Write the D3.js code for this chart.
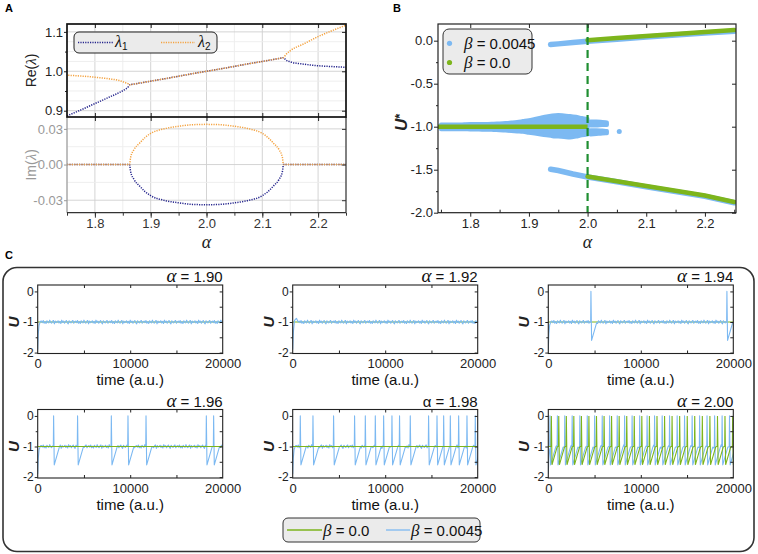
<!DOCTYPE html>
<html><head><meta charset="utf-8">
<script src="https://cdn.jsdelivr.net/npm/d3@7"></script>
<style>
body{margin:0;background:#fff}
svg{display:block;font-family:"Liberation Sans",Arial,sans-serif}
</style></head><body>
<svg id="chart" width="758" height="554"></svg>
<script>
// ================= DATA =================
// Panel A : eigenvalues vs alpha
const alphaTicksA = [1.8, 1.9, 2.0, 2.1, 2.2];
const reTicks = [0.9, 1.0, 1.1];
const imTicks = [-0.03, 0.0, 0.03];
const alphaA = [1.75,1.775,1.80,1.825,1.845,1.855,1.86,1.862,1.864,1.87,1.88,1.89,1.90,1.925,1.95,1.975,2.0,2.025,2.05,2.075,2.10,2.11,2.12,2.13,2.136,2.138,2.142,2.15,2.175,2.2,2.225,2.25];
const reLambda1 = [0.887,0.902,0.918,0.934,0.947,0.955,0.961,0.9655,0.966,0.9675,0.970,0.9725,0.975,0.981,0.9875,0.994,1.000,1.006,1.0125,1.019,1.025,1.0275,1.030,1.0325,1.034,1.0345,1.029,1.024,1.018,1.014,1.012,1.010];
const reLambda2 = [0.990,0.988,0.985,0.981,0.976,0.971,0.968,0.9655,0.966,0.9675,0.970,0.9725,0.975,0.981,0.9875,0.994,1.000,1.006,1.0125,1.019,1.025,1.0275,1.030,1.0325,1.034,1.0345,1.042,1.052,1.070,1.088,1.103,1.117];
const imLambda1 = [0,0,0,0,0,0,0,0,-0.006,-0.0125,-0.018,-0.0228,-0.0262,-0.0302,-0.0322,-0.0335,-0.0338,-0.0335,-0.0322,-0.0302,-0.0262,-0.0228,-0.018,-0.0125,-0.006,0,0,0,0,0,0,0];
const imLambda2 = [0,0,0,0,0,0,0,0,0.006,0.0125,0.018,0.0228,0.0262,0.0302,0.0322,0.0335,0.0338,0.0335,0.0322,0.0302,0.0262,0.0228,0.018,0.0125,0.006,0,0,0,0,0,0,0];

// Panel B : fixed points U* vs alpha
const alphaTicksB = [1.8, 1.9, 2.0, 2.1, 2.2];
const uTicksB = [0.0, -0.5, -1.0, -1.5, -2.0];
const cloudAlpha = [1.75,1.76,1.77,1.78,1.79,1.80,1.81,1.82,1.83,1.84,1.85,1.86,1.87,1.88,1.89,1.90,1.91,1.92,1.93,1.94,1.95,1.96,1.97,1.98,1.99,2.00];
const cloudLow  = [-1.03,-1.03,-1.03,-1.03,-1.03,-1.032,-1.032,-1.035,-1.035,-1.038,-1.04,-1.045,-1.05,-1.055,-1.06,-1.07,-1.08,-1.09,-1.10,-1.11,-1.115,-1.12,-1.125,-1.115,-1.10,-1.09];
const cloudHigh = [-0.975,-0.975,-0.975,-0.975,-0.972,-0.97,-0.97,-0.968,-0.968,-0.965,-0.962,-0.958,-0.952,-0.945,-0.935,-0.925,-0.91,-0.895,-0.88,-0.87,-0.865,-0.87,-0.875,-0.885,-0.90,-0.91];
const clusterAlpha = [2.005, 2.015, 2.025, 2.033];
const clusterUpLow = [-0.985, -0.985, -0.98, -0.98];
const clusterUpHigh = [-0.94, -0.94, -0.945, -0.95];
const clusterDnLow = [-1.09, -1.085, -1.08, -1.075];
const clusterDnHigh = [-1.04, -1.04, -1.045, -1.05];
const isolatedPoint = [2.054, -1.055];
const branchAlphaBlue = [1.937, 1.95, 1.975, 2.0, 2.05, 2.1, 2.15, 2.2, 2.25];
const upperBlue = [-0.045, -0.037, -0.022, -0.007, 0.018, 0.043, 0.067, 0.09, 0.11];
const lowerBlue = [-1.495, -1.51, -1.55, -1.585, -1.64, -1.70, -1.755, -1.81, -1.885];
const branchAlphaGreen = [2.0, 2.05, 2.1, 2.15, 2.2, 2.25];
const upperGreen = [0.005, 0.03, 0.054, 0.078, 0.10, 0.123];
const lowerGreen = [-1.58, -1.635, -1.69, -1.745, -1.80, -1.875];
const restAlphaGreen = [1.745, 2.0];
const restGreen = [-1.0, -1.0];

// Panel C : time series
const panelAlphas = ["1.90", "1.92", "1.94", "1.96", "1.98", "2.00"];
const timeTicks = [0, 10000, 20000];
const uTicksC = [0, -1, -2];
const spikeTemplate = [[0, -1.0], [30, 0.0], [100, -1.6], [650, -1.02]];
const transientBlue = [[0, -1.9], [60, -1.4], [150, -1.1], [300, -0.98]];
const transient192 = [[0, -1.9], [80, -1.3], [200, -0.95], [400, -0.88], [600, -1.0]];
const baselineNoise = [0.03,-0.02,0.05,-0.04,0.01,-0.05,0.04,0.0,-0.03,0.06,-0.01,-0.04,0.02,0.05,-0.06,0.03,-0.02,0.0,0.04,-0.03,0.02,-0.05,0.06,-0.01,0.03,-0.04,0.01,0.05,-0.02,-0.06,0.04,0.0,-0.03,0.02,0.05,-0.04,0.01];
const spikes190 = [];
const spikes192 = [];
const spikes194 = [4580, 19280];
const spikes196 = [1690, 4280, 7930, 9730, 11680, 18200, 18990];
const spikes198 = [790, 2160, 4390, 6660, 7820, 8900, 9800, 10700, 11520, 12680, 14660, 15570, 16290, 17010, 17910, 18810, 19710];
const spikes200 = [150, 950, 1750, 2550, 3380, 4180, 4980, 5800, 6600, 7420, 8220, 9030, 9850, 10650, 11460, 12280, 13080, 13900, 14700, 15520, 16330, 17130, 17950, 18760, 19560];
const greenSpikes200 = [300, 1100, 1920, 2730, 3550, 4360, 5180, 6000, 6810, 7630, 8450, 9260, 10080, 10900, 11720, 12540, 13350, 14170, 14990, 15800, 16620, 17440, 18260, 19070, 19900];

// ================= DRAWING =================
const SANS = '"Liberation Sans", Arial, sans-serif';
const SERIF = '"Liberation Serif", "Times New Roman", serif';
const NAVY = "#24248c", ORANGE = "#f4a23f";
const BLUE = "#7cb9f2", GREEN = "#7db51c", DGREEN = "#1f8e31";
const svg = d3.select("#chart");
svg.append("rect").attr("width", 758).attr("height", 554).attr("fill", "#fff");

function richText(parent, x, y, parts, attrs) {
  const t = parent.append("text").attr("x", x).attr("y", y).attr("font-family", SANS);
  Object.entries(attrs || {}).forEach(([k, v]) => t.attr(k, v));
  parts.forEach(p => {
    const s = t.append("tspan").text(p.t);
    if (p.serif) s.attr("font-family", SERIF);
    if (p.it) s.attr("font-style", "italic");
    if (p.size) s.attr("font-size", p.size);
    if (p.dy) s.attr("dy", p.dy);
    if (p.bold) s.attr("font-weight", "bold");
  });
  return t;
}
function styleAxis(g, color, fs) {
  g.select(".domain").remove();
  g.selectAll(".tick line").attr("stroke", color).attr("stroke-width", 1);
  g.selectAll(".tick text").attr("fill", color).attr("font-size", fs).attr("font-family", SANS);
  return g;
}
const defs = svg.append("defs");
function clip(id, x, y, w, h) {
  defs.append("clipPath").attr("id", id).append("rect").attr("x", x).attr("y", y).attr("width", w).attr("height", h);
  return "url(#" + id + ")";
}

// panel letters
[["A", 5, 12], ["B", 393, 12], ["C", 5, 259]].forEach(([l, x, y]) =>
  svg.append("text").attr("x", x).attr("y", y).text(l).attr("font-weight", "bold").attr("font-size", 11).attr("font-family", SANS));

// ---------- Panel A ----------
{
  const g = svg.append("g");
  const L = 67, R = 346, T = 24, M = 117, B = 212.7;
  const xA = d3.scaleLinear().domain([1.75, 2.25]).range([L, R]);
  const yRe = d3.scaleLinear().domain([0.884, 1.12]).range([M, T]);
  const yIm = d3.scaleLinear().domain([-0.0405, 0.040]).range([B, M]);
  const minorX = xA.ticks(10);
  const reGrid = d3.range(0.9, 1.11, 0.025);
  const imGrid = d3.range(-0.03, 0.031, 0.015);
  // grid
  const grid = g.append("g");
  minorX.forEach(v => {
    const major = alphaTicksA.some(a => Math.abs(a - v) < 1e-6);
    grid.append("line").attr("x1", xA(v)).attr("x2", xA(v)).attr("y1", T).attr("y2", B)
      .attr("stroke", major ? "#cfcfcf" : "#ececec").attr("stroke-width", 0.9);
  });
  reGrid.forEach(v => {
    const major = reTicks.some(a => Math.abs(a - v) < 1e-6);
    grid.append("line").attr("x1", L).attr("x2", R).attr("y1", yRe(v)).attr("y2", yRe(v))
      .attr("stroke", major ? "#cfcfcf" : "#ececec").attr("stroke-width", 0.9);
  });
  imGrid.forEach(v => {
    const major = imTicks.some(a => Math.abs(a - v) < 1e-6);
    grid.append("line").attr("x1", L).attr("x2", R).attr("y1", yIm(v)).attr("y2", yIm(v))
      .attr("stroke", major ? "#cfcfcf" : "#ececec").attr("stroke-width", 0.9);
  });
  // curves
  const cRe = clip("clipRe", L, T, R - L, M - T);
  const cIm = clip("clipIm", L, M, R - L, B - M);
  const lineRe = d3.line().x((d, i) => xA(alphaA[i])).y(d => yRe(d)).curve(d3.curveMonotoneX);
  const lineIm = d3.line().x((d, i) => xA(alphaA[i])).y(d => yIm(d)).curve(d3.curveMonotoneX);
  const cr = g.append("g").attr("clip-path", cRe);
  cr.append("path").attr("d", lineRe(reLambda1)).attr("fill", "none").attr("stroke", NAVY).attr("stroke-width", 1.5).attr("stroke-dasharray", "1.2,1.2");
  cr.append("path").attr("d", lineRe(reLambda2)).attr("fill", "none").attr("stroke", ORANGE).attr("stroke-width", 1.5).attr("stroke-dasharray", "1.2,1.2").attr("stroke-dashoffset", 1.2);
  const ci = g.append("g").attr("clip-path", cIm);
  ci.append("path").attr("d", lineIm(imLambda1)).attr("fill", "none").attr("stroke", NAVY).attr("stroke-width", 1.5).attr("stroke-dasharray", "1.2,1.2");
  ci.append("path").attr("d", lineIm(imLambda2)).attr("fill", "none").attr("stroke", ORANGE).attr("stroke-width", 1.5).attr("stroke-dasharray", "1.2,1.2");
  // axes Re
  styleAxis(g.append("g").attr("transform", `translate(${L},0)`).call(d3.axisLeft(yRe).tickValues(reTicks).tickSize(3).tickPadding(1).tickFormat(d => d.toFixed(1))), "#222", 13);
  styleAxis(g.append("g").attr("transform", `translate(${L},0)`).call(d3.axisLeft(yRe).tickValues([0.95, 1.05]).tickSize(2).tickFormat("")), "#222", 12);
  styleAxis(g.append("g").attr("transform", `translate(${R},0)`).call(d3.axisRight(yRe).tickValues(reTicks).tickSize(-4).tickFormat("")), "#222", 12);
  styleAxis(g.append("g").attr("transform", `translate(0,${T})`).call(d3.axisTop(xA).tickValues(alphaTicksA).tickSize(-4).tickFormat("")), "#222", 12);
  styleAxis(g.append("g").attr("transform", `translate(0,${M})`).call(d3.axisTop(xA).tickValues(alphaTicksA).tickSize(4).tickFormat("")), "#222", 12);
  styleAxis(g.append("g").attr("transform", `translate(0,${M})`).call(d3.axisBottom(xA).tickValues(alphaTicksA).tickSize(4).tickFormat("")), "#222", 12);
  // axes Im
  styleAxis(g.append("g").attr("transform", `translate(${L},0)`).call(d3.axisLeft(yIm).tickValues(imTicks).tickSize(3).tickPadding(1).tickFormat(d => d.toFixed(2))), "#999", 13);
  styleAxis(g.append("g").attr("transform", `translate(${R},0)`).call(d3.axisRight(yIm).tickValues(imTicks).tickSize(-4).tickFormat("")), "#333", 12);
  styleAxis(g.append("g").attr("transform", `translate(0,${B})`).call(d3.axisBottom(xA).tickValues(alphaTicksA).tickSize(5).tickPadding(1).tickFormat(d => d.toFixed(1))), "#333", 13);
  styleAxis(g.append("g").attr("transform", `translate(0,${B})`).call(d3.axisBottom(xA).tickValues(minorX).tickSize(3).tickFormat("")), "#333", 12);
  // frames
  g.append("line").attr("x1", L).attr("x2", L).attr("y1", M).attr("y2", B).attr("stroke", "#999").attr("stroke-width", 1.2);
  g.append("line").attr("x1", L).attr("x2", R).attr("y1", B).attr("y2", B).attr("stroke", "#333").attr("stroke-width", 1.2);
  g.append("line").attr("x1", R).attr("x2", R).attr("y1", M).attr("y2", B).attr("stroke", "#333").attr("stroke-width", 1.2);
  g.append("rect").attr("x", L).attr("y", T).attr("width", R - L).attr("height", M - T).attr("fill", "none").attr("stroke", "#111").attr("stroke-width", 1.7);
  // labels
  richText(g, 0, 0, [{ t: "Re(" }, { t: "λ", it: true, serif: true, size: 15 }, { t: ")" }], { "font-size": 14, "text-anchor": "middle", transform: `translate(36,${(T + M) / 2}) rotate(-90)`, fill: "#222" });
  richText(g, 0, 0, [{ t: "Im(" }, { t: "λ", it: true, serif: true, size: 15 }, { t: ")" }], { "font-size": 14, "text-anchor": "middle", transform: `translate(36,${(M + B) / 2}) rotate(-90)`, fill: "#999" });
  richText(g, xA(2.0), 248, [{ t: "α", it: true, serif: true }], { "font-size": 18, "text-anchor": "middle", fill: "#222" });
  // legend
  const lg = g.append("g");
  lg.append("rect").attr("x", 74).attr("y", 32).attr("width", 143).attr("height", 21).attr("rx", 5).attr("fill", "#ebebeb").attr("stroke", "#222").attr("stroke-width", 1);
  lg.append("line").attr("x1", 78).attr("x2", 113).attr("y1", 42.5).attr("y2", 42.5).attr("stroke", NAVY).attr("stroke-width", 1.5).attr("stroke-dasharray", "1.2,1.2");
  richText(lg, 115, 47, [{ t: "λ", it: true, serif: true, size: 16 }, { t: "1", size: 10, dy: 3 }], { fill: "#111" });
  lg.append("line").attr("x1", 161).attr("x2", 195).attr("y1", 42.5).attr("y2", 42.5).attr("stroke", ORANGE).attr("stroke-width", 1.5).attr("stroke-dasharray", "1.2,1.2");
  richText(lg, 198, 47, [{ t: "λ", it: true, serif: true, size: 16 }, { t: "2", size: 10, dy: 3 }], { fill: "#111" });
}

// ---------- Panel B ----------
{
  const g = svg.append("g");
  const L = 438, R = 736, T = 24, B = 212.7;
  const xB = d3.scaleLinear().domain([1.745, 2.253]).range([L, R]);
  const yB = d3.scaleLinear().domain([-2.0, 0.194]).range([B, T]);
  const cB = clip("clipB", L, T, R - L, B - T);
  const d = g.append("g").attr("clip-path", cB);
  const band = (al, lo, hi) => d3.area().x((v, i) => xB(al[i])).y0((v, i) => yB(lo[i])).y1((v, i) => yB(hi[i])).curve(d3.curveMonotoneX)(lo);
  d.append("path").attr("d", band(cloudAlpha, cloudLow, cloudHigh)).attr("fill", BLUE).attr("stroke", BLUE).attr("stroke-width", 4).attr("stroke-linejoin", "round");
  d.append("path").attr("d", band(clusterAlpha, clusterUpLow, clusterUpHigh)).attr("fill", BLUE).attr("stroke", BLUE).attr("stroke-width", 4).attr("stroke-linejoin", "round");
  d.append("path").attr("d", band(clusterAlpha, clusterDnLow, clusterDnHigh)).attr("fill", BLUE).attr("stroke", BLUE).attr("stroke-width", 4).attr("stroke-linejoin", "round");
  d.append("circle").attr("cx", xB(isolatedPoint[0])).attr("cy", yB(isolatedPoint[1])).attr("r", 2.5).attr("fill", BLUE);
  const ln = (al) => d3.line().x((v, i) => xB(al[i])).y(v => yB(v));
  d.append("path").attr("d", ln(branchAlphaBlue)(upperBlue)).attr("fill", "none").attr("stroke", BLUE).attr("stroke-width", 5.5).attr("stroke-linecap", "round");
  d.append("path").attr("d", ln(branchAlphaBlue)(lowerBlue)).attr("fill", "none").attr("stroke", BLUE).attr("stroke-width", 5.5).attr("stroke-linecap", "round");
  d.append("path").attr("d", ln(restAlphaGreen)(restGreen)).attr("fill", "none").attr("stroke", GREEN).attr("stroke-width", 4.5);
  d.append("path").attr("d", ln(branchAlphaGreen)(upperGreen)).attr("fill", "none").attr("stroke", GREEN).attr("stroke-width", 4.5).attr("stroke-linecap", "round");
  d.append("path").attr("d", ln(branchAlphaGreen)(lowerGreen)).attr("fill", "none").attr("stroke", GREEN).attr("stroke-width", 4.5).attr("stroke-linecap", "round");
  d.append("line").attr("x1", xB(2.0)).attr("x2", xB(2.0)).attr("y1", T).attr("y2", B).attr("stroke", DGREEN).attr("stroke-width", 2.2).attr("stroke-dasharray", "8,5");
  // axes
  styleAxis(g.append("g").attr("transform", `translate(${L},0)`).call(d3.axisLeft(yB).tickValues(uTicksB).tickSize(4).tickPadding(1).tickFormat(d => d.toFixed(1))), "#222", 13);
  styleAxis(g.append("g").attr("transform", `translate(${L},0)`).call(d3.axisLeft(yB).tickValues([-0.25, -0.75, -1.25, -1.75]).tickSize(2).tickFormat("")), "#222", 12);
  styleAxis(g.append("g").attr("transform", `translate(${R},0)`).call(d3.axisRight(yB).tickValues(uTicksB).tickSize(-4).tickFormat("")), "#222", 12);
  styleAxis(g.append("g").attr("transform", `translate(0,${T})`).call(d3.axisTop(xB).tickValues(alphaTicksB).tickSize(-4).tickFormat("")), "#222", 12);
  styleAxis(g.append("g").attr("transform", `translate(0,${B})`).call(d3.axisBottom(xB).tickValues(alphaTicksB).tickSize(4).tickPadding(2).tickFormat(d => d.toFixed(1))), "#222", 13);
  styleAxis(g.append("g").attr("transform", `translate(0,${B})`).call(d3.axisBottom(xB).tickValues([1.75, 1.85, 1.95, 2.05, 2.15, 2.25]).tickSize(-3).tickFormat("")), "#222", 12);
  g.append("rect").attr("x", L).attr("y", T).attr("width", R - L).attr("height", B - T).attr("fill", "none").attr("stroke", "#222").attr("stroke-width", 1.2);
  // labels
  richText(g, 0, 0, [{ t: "U", it: true, bold: true }, { t: "*", bold: true, dy: -3, size: 13 }], { "font-size": 17, "text-anchor": "middle", transform: `translate(407,${yB(-0.95)}) rotate(-90)`, fill: "#222" });
  richText(g, xB(2.0), 248, [{ t: "α", it: true, serif: true }], { "font-size": 18, "text-anchor": "middle", fill: "#222" });
  // legend
  const lg = g.append("g");
  lg.append("rect").attr("x", 443).attr("y", 29).attr("width", 89).attr("height", 45).attr("rx", 6).attr("fill", "#ebebeb").attr("stroke", "#333").attr("stroke-width", 1);
  lg.append("circle").attr("cx", 449.5).attr("cy", 43.3).attr("r", 2.6).attr("fill", BLUE);
  richText(lg, 464, 48.5, [{ t: "β", it: true, serif: true, size: 17 }, { t: " = 0.0045" }], { "font-size": 15, fill: "#111" });
  lg.append("circle").attr("cx", 449.5).attr("cy", 62.5).attr("r", 2.6).attr("fill", GREEN);
  richText(lg, 464, 68, [{ t: "β", it: true, serif: true, size: 17 }, { t: " = 0.0" }], { "font-size": 15, fill: "#111" });
}

// ---------- Panel C ----------
function buildSeries(transient, spikes, noise) {
  const pts = transient.map(p => [p[0], p[1]]);
  let t = pts[pts.length - 1][0];
  let ni = 0;
  const step = 100;
  spikes.forEach(s => {
    for (let tt = t + step; tt < s; tt += step) pts.push([tt, -1 + noise[(ni++) % noise.length]]);
    spikeTemplate.forEach(([dt, u]) => pts.push([s + dt, u]));
    t = s + spikeTemplate[spikeTemplate.length - 1][0];
  });
  for (let tt = t + step; tt <= 20000; tt += step) pts.push([tt, -1 + noise[(ni++) % noise.length]]);
  return pts;
}
{
  const g = svg.append("g");
  g.append("rect").attr("x", 3).attr("y", 267.5).attr("width", 751).attr("height", 284).attr("rx", 14)
    .attr("fill", "none").attr("stroke", "#333").attr("stroke-width", 1.6);
  const colL = [37.7, 292.7, 548.3], rowT = [285, 409.5], PW = 185, PH = 68.5;
  const blueSpikes = [spikes190, spikes192, spikes194, spikes196, spikes198, spikes200];
  panelAlphas.forEach((a, k) => {
    const L = colL[k % 3], T = rowT[Math.floor(k / 3)], R = L + PW, B = T + PH;
    const x = d3.scaleLinear().domain([0, 20000]).range([L, R]);
    const y = d3.scaleLinear().domain([-2.03, 0.21]).range([B, T]);
    const pg = g.append("g");
    const cp = clip("clipC" + k, L, T, PW, PH);
    const dg = pg.append("g").attr("clip-path", cp);
    const line = d3.line().x(p => x(p[0])).y(p => y(p[1]));
    const blue = buildSeries(k === 1 ? transient192 : transientBlue, blueSpikes[k], baselineNoise);
    const green = k === 5 ? buildSeries([[0, -1.0]], greenSpikes200, [0]) : [[0, -1.0], [20000, -1.0]];
    const greenOnTop = k >= 3;
    if (!greenOnTop) dg.append("path").attr("d", line(green)).attr("fill", "none").attr("stroke", GREEN).attr("stroke-width", 1.1);
    dg.append("path").attr("d", line(blue)).attr("fill", "none").attr("stroke", BLUE).attr("stroke-width", 1.1).attr("stroke-linejoin", "round");
    if (greenOnTop) dg.append("path").attr("d", line(green)).attr("fill", "none").attr("stroke", GREEN).attr("stroke-width", 1.1);
    // axes
    styleAxis(pg.append("g").attr("transform", `translate(${L},0)`).call(d3.axisLeft(y).tickValues(uTicksC).tickSize(3).tickPadding(1).tickFormat(d => String(d))), "#222", 12);
    styleAxis(pg.append("g").attr("transform", `translate(${L},0)`).call(d3.axisLeft(y).tickValues([-0.5, -1.5]).tickSize(2).tickFormat("")), "#222", 12);
    styleAxis(pg.append("g").attr("transform", `translate(${R},0)`).call(d3.axisRight(y).tickValues([0, -0.5, -1, -1.5, -2]).tickSize(-3).tickFormat("")), "#222", 12);
    styleAxis(pg.append("g").attr("transform", `translate(0,${T})`).call(d3.axisTop(x).tickValues([5000, 10000, 15000]).tickSize(-3).tickFormat("")), "#222", 12);
    styleAxis(pg.append("g").attr("transform", `translate(0,${B})`).call(d3.axisBottom(x).tickValues(timeTicks).tickSize(0).tickPadding(5.5).tickFormat(d => String(d))), "#222", 13);
    styleAxis(pg.append("g").attr("transform", `translate(0,${B})`).call(d3.axisBottom(x).tickValues([5000, 10000, 15000]).tickSize(-3).tickFormat("")), "#222", 12);
    pg.append("rect").attr("x", L).attr("y", T).attr("width", PW).attr("height", PH).attr("fill", "none").attr("stroke", "#222").attr("stroke-width", 1.1);
    // labels
    const alphaPart = k === 4 ? { t: "α", size: 15 } : { t: "α", it: true, serif: true, size: 19 };
    richText(pg, R, T - 3, [alphaPart, { t: " = " + a }], { "font-size": 15, "text-anchor": "end", fill: "#111" });
    richText(pg, 0, 0, [{ t: "U", it: true, bold: true }], { "font-size": 15, "text-anchor": "middle", transform: `translate(${L - 19},${y(-1)}) rotate(-90)`, fill: "#222" });
    richText(pg, (L + R) / 2, B + 31.5, [{ t: "time (a.u.)" }], { "font-size": 15, "text-anchor": "middle", fill: "#111" });
  });
  // legend
  const lg = g.append("g");
  lg.append("rect").attr("x", 283).attr("y", 518).attr("width", 197).attr("height", 24).attr("rx", 5).attr("fill", "#ebebeb").attr("stroke", "#333").attr("stroke-width", 1);
  lg.append("line").attr("x1", 287).attr("x2", 322).attr("y1", 530).attr("y2", 530).attr("stroke", GREEN).attr("stroke-width", 1.3);
  richText(lg, 323, 535.5, [{ t: "β", it: true, serif: true, size: 17 }, { t: " = 0.0" }], { "font-size": 15, fill: "#111" });
  lg.append("line").attr("x1", 386).attr("x2", 410).attr("y1", 530).attr("y2", 530).attr("stroke", BLUE).attr("stroke-width", 1.3);
  richText(lg, 411, 535.5, [{ t: "β", it: true, serif: true, size: 17 }, { t: " = 0.0045" }], { "font-size": 15, fill: "#111" });
}
</script></body></html>
